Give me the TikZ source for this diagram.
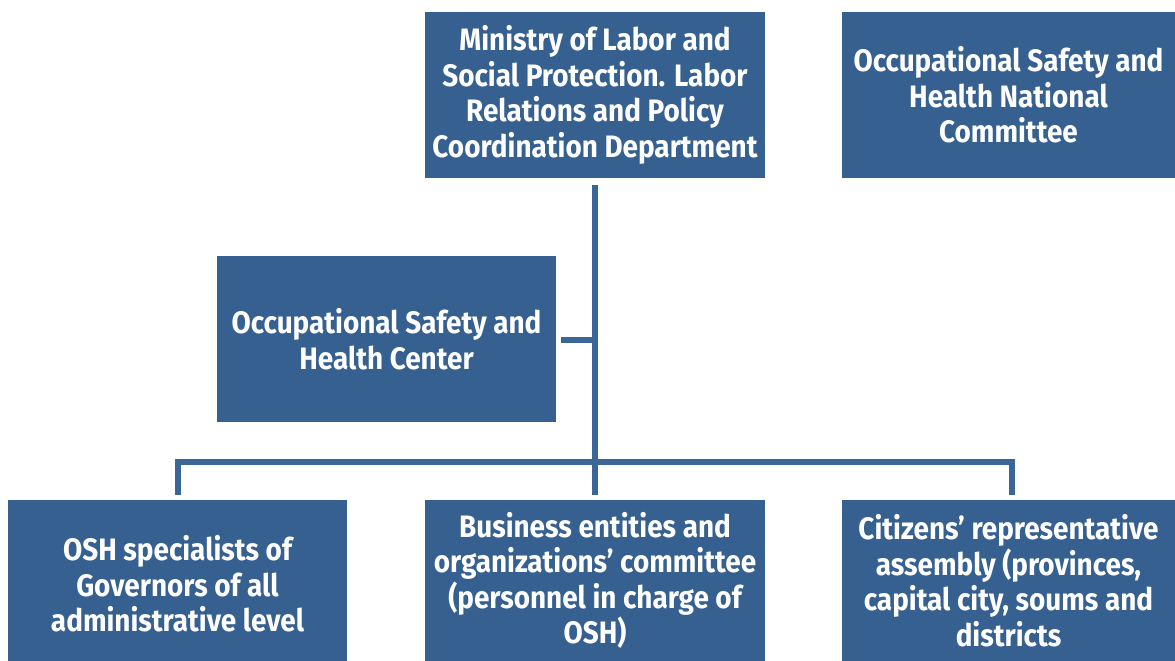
\documentclass[tikz,border=0pt]{standalone}
\usepackage{fontspec}
\usetikzlibrary{calc}
\setmainfont{Fira Sans}[FakeStretch=0.9]
\definecolor{boxblue}{HTML}{36608F}
\definecolor{lineblue}{HTML}{3A6797}
\begin{document}
\begin{tikzpicture}[x=1pt,y=-1pt,
  orgbox/.style={fill=boxblue, draw=none, text=white, align=center, inner sep=0pt,
    font=\fontsize{31}{35.5}\selectfont\bfseries},
  link/.style={draw=lineblue, line width=5.5pt}]
\useasboundingbox (0,0) rectangle (1175,661);
\node[orgbox, minimum width=340, minimum height=166] (min) at (595,95)
  {Ministry of Labor and\\Social Protection. Labor\\Relations and Policy\\Coordination Department};
\node[orgbox, minimum width=333, minimum height=166] (nat) at (1008.5,95)
  {Occupational Safety and\\Health National\\Committee};
\node[orgbox, minimum width=339, minimum height=166] (cen) at (386.5,339)
  {Occupational Safety and\\Health Center};
\node[orgbox, minimum width=339, minimum height=161] (gov) at (177.5,580.5) {};
\node[font=\fontsize{31}{35.5}\selectfont\bfseries, text=white, align=center, inner sep=0pt] (govtext) at (177.5,584)
  {OSH specialists of\\Governors of all\\administrative level};
\node[orgbox, minimum width=340, minimum height=161] (bus) at (595,580.5)
  {Business entities and\\organizations’ committee\\(personnel in charge of\\OSH)};
\node[orgbox, minimum width=333, minimum height=161] (cit) at (1008.5,580.5)
  {Citizens’ representative\\assembly (provinces,\\capital city, soums and\\districts};
\coordinate (vtop) at ($(min.south)+(0,7)$);
\coordinate (vbot) at (595,495);
\coordinate (hl) at (178,462);
\coordinate (hr) at (1012,462);
\coordinate (ldrop) at (178,495);
\coordinate (rdrop) at (1012,495);
\coordinate (stub) at (561,340);
\coordinate (junc) at (595,340);
\draw[link] (vtop) -- (vbot);
\draw[link, line join=miter] (ldrop) -- (hl) -- (hr) -- (rdrop);
\draw[link] (stub) -- (junc);
\end{tikzpicture}
\end{document}
